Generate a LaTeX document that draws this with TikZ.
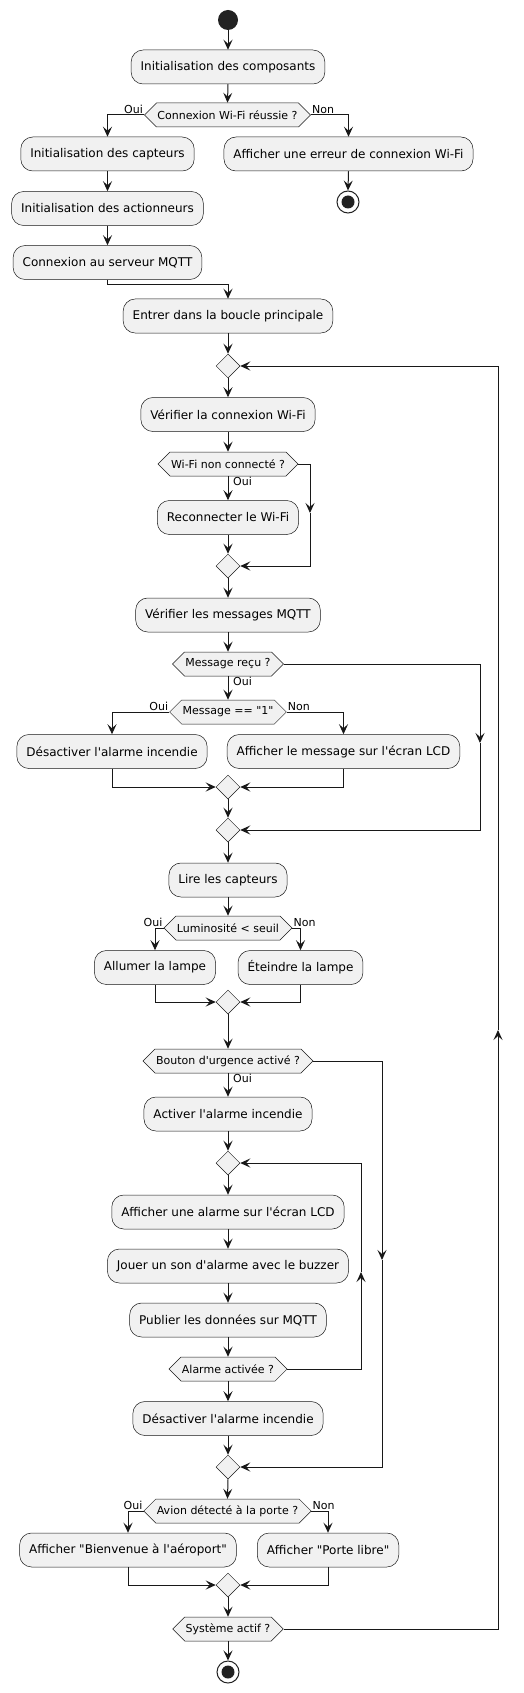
\documentclass[tikz,border=0pt]{standalone}
\usepackage{fontspec}
\setmainfont{DejaVu Sans}[Ligatures=TeXOff]
\usetikzlibrary{arrows.meta,shapes.geometric,shapes.symbols}
\definecolor{lc}{HTML}{181818}
\definecolor{ac}{HTML}{181818}
\definecolor{boxfill}{HTML}{F1F1F1}
\definecolor{startc}{HTML}{222222}
\tikzset{
 act/.style={draw=lc, line width=0.5pt, fill=boxfill, rounded corners=12pt, minimum height=34pt, inner xsep=9.5pt, inner ysep=0pt, font=\fontsize{12}{14}\selectfont},
 dec/.style={signal, signal to=west and east, signal pointer angle=90, draw=lc, line width=0.5pt, fill=boxfill, minimum height=24pt, inner xsep=1pt, inner ysep=0pt, font=\fontsize{11}{13}\selectfont},
 mrg/.style={diamond, draw=lc, line width=0.5pt, fill=boxfill, minimum width=24pt, minimum height=24pt, inner sep=0pt},
 arr/.style={draw=ac, line width=1pt, -{Stealth[length=10pt,width=9pt,inset=4pt]}},
 lbl/.style={font=\fontsize{11}{13}\selectfont, inner sep=1pt},
 startn/.style={circle, fill=startc, minimum size=20pt, inner sep=0pt},
 stopn/.style={circle, draw=startc, line width=1pt, fill=white, minimum size=22pt, inner sep=0pt},
}
\begin{document}
\begin{tikzpicture}[x=1pt,y=-1pt]
\useasboundingbox (0,0) rectangle (524,1693);
\fill[white] (0,0) rectangle (524,1693);

% nodes
\node[startn] (start) at (228,20) {};
\node[act] (a1) at (228,67) {Initialisation des composants};
\node[dec] (d1) at (227.5,115) {Connexion Wi-Fi réussie ?};
\node[act] (b1) at (107.5,154) {Initialisation des capteurs};
\node[act] (e1) at (348.5,154) {Afficher une erreur de connexion Wi-Fi};
\node[stopn] (stop1) at (348,202) {};
\fill[startc] (stop1.center) circle (6.5);
\node[act] (b2) at (107.5,208.5) {Initialisation des actionneurs};
\node[act] (b3) at (107.5,262.5) {Connexion au serveur MQTT};
\node[act] (a2) at (228,316) {Entrer dans la boucle principale};
\node[mrg] (m1) at (228,366) {};
\node[act] (a3) at (228,414.5) {Vérifier la connexion Wi-Fi};
\node[dec] (d2) at (228,464) {Wi-Fi non connecté ?};
\node[act] (a4) at (228,517.5) {Reconnecter le Wi-Fi};
\node[mrg] (m2) at (228,566) {};
\node[act] (a5) at (228,615) {Vérifier les messages MQTT};
\node[dec] (d3) at (228,664) {Message reçu ?};
\node[dec] (d4) at (228,712) {Message == "1"};
\node[act] (b4) at (112,751.5) {Désactiver l'alarme incendie};
\node[act] (c4) at (343.5,751.5) {Afficher le message sur l'écran LCD};
\node[mrg] (m3) at (228,787) {};
\node[mrg] (m4) at (228,830) {};
\node[act] (a6) at (228,880) {Lire les capteurs};
\node[dec] (d5) at (228,928) {Luminosité < seuil};
\node[act] (b5) at (155,967.5) {Allumer la lampe};
\node[act] (c5) at (300.5,967.5) {Éteindre la lampe};
\node[mrg] (m5) at (228,1002) {};
\node[dec] (d6) at (228,1061) {Bouton d'urgence activé ?};
\node[act] (a7) at (228,1114) {Activer l'alarme incendie};
\node[mrg] (m6) at (228,1163) {};
\node[act] (a8) at (228,1212) {Afficher une alarme sur l'écran LCD};
\node[act] (a9) at (228,1266) {Jouer un son d'alarme avec le buzzer};
\node[act] (a10) at (228,1320) {Publier les données sur MQTT};
\node[dec] (d7) at (228,1369) {Alarme activée ?};
\node[act] (a11) at (228,1418.5) {Désactiver l'alarme incendie};
\node[mrg] (m7) at (228,1467) {};
\node[dec] (d8) at (227.5,1511) {Avion détecté à la porte ?};
\node[act] (b8) at (128,1550) {Afficher "Bienvenue à l'aéroport"};
\node[act] (c8) at (328,1550) {Afficher "Porte libre"};
\node[mrg] (m8) at (228,1585) {};
\node[dec] (d9) at (228,1629) {Système actif ?};
\node[stopn] (stop2) at (228,1672) {};
\fill[startc] (stop2.center) circle (6.5);

% corner coordinates
\coordinate (k2) at (310,513);
\coordinate (k3) at (480,743);
\coordinate (k6) at (382,1260);
\coordinate (k7) at (361,1272);
\coordinate (k9) at (498,1030);

% labels
\node[lbl, anchor=south east] (l1) at (d1.west) {Oui};
\node[lbl, anchor=south west] (l2) at (d1.east) {Non};
\node[lbl, anchor=north west, xshift=4pt] (l3) at (d2.south) {Oui};
\node[lbl, anchor=north west, xshift=4pt] (l4) at (d3.south) {Oui};
\node[lbl, anchor=south east] (l5) at (d4.west) {Oui};
\node[lbl, anchor=south west] (l6) at (d4.east) {Non};
\node[lbl, anchor=south east] (l7) at (d5.west) {Oui};
\node[lbl, anchor=south west] (l8) at (d5.east) {Non};
\node[lbl, anchor=north west, xshift=4pt] (l9) at (d6.south) {Oui};
\node[lbl, anchor=south east] (l10) at (d8.west) {Oui};
\node[lbl, anchor=south west] (l11) at (d8.east) {Non};

% connectors
\draw[arr] (start.south) -- (a1.north);
\draw[arr] (a1.south) -- (d1.north);
\draw[arr] (d1.west) -| (b1.north);
\draw[arr] (d1.east) -| (e1.north);
\draw[arr] (e1.south) -- (stop1.north);
\draw[arr] (b1.south) -- (b2.north);
\draw[arr] (b2.south) -- (b3.north);
\draw[arr] (b3.south) -- ++(0,5) -| (a2.north);
\draw[arr] (a2.south) -- (m1.north);
\draw[arr] (m1.south) -- (a3.north);
\draw[arr] (a3.south) -- (d2.north);
\draw[arr] (d2.south) -- (a4.north);
\draw[arr] (d2.east) -| (k2);
\draw[arr] (k2) |- (m2.east);
\draw[arr] (a4.south) -- (m2.north);
\draw[arr] (m2.south) -- (a5.north);
\draw[arr] (a5.south) -- (d3.north);
\draw[arr] (d3.south) -- (d4.north);
\draw[arr] (d3.east) -| (k3);
\draw[arr] (k3) |- (m4.east);
\draw[arr] (d4.west) -| (b4.north);
\draw[arr] (d4.east) -| (c4.north);
\draw[arr] (b4.south) |- (m3.west);
\draw[arr] (c4.south) |- (m3.east);
\draw[arr] (m3.south) -- (m4.north);
\draw[arr] (m4.south) -- (a6.north);
\draw[arr] (a6.south) -- (d5.north);
\draw[arr] (d5.west) -| (b5.north);
\draw[arr] (d5.east) -| (c5.north);
\draw[arr] (b5.south) |- (m5.west);
\draw[arr] (c5.south) |- (m5.east);
\draw[arr] (m5.south) -- (d6.north);
\draw[arr] (d6.south) -- (a7.north);
\draw[arr] (d6.east) -| (k6);
\draw[arr] (k6) |- (m7.east);
\draw[arr] (a7.south) -- (m6.north);
\draw[arr] (m6.south) -- (a8.north);
\draw[arr] (a8.south) -- (a9.north);
\draw[arr] (a9.south) -- (a10.north);
\draw[arr] (a10.south) -- (d7.north);
\draw[arr] (d7.east) -| (k7);
\draw[arr] (k7) |- (m6.east);
\draw[arr] (d7.south) -- (a11.north);
\draw[arr] (a11.south) -- (m7.north);
\draw[arr] (m7.south) -- (d8.north);
\draw[arr] (d8.west) -| (b8.north);
\draw[arr] (d8.east) -| (c8.north);
\draw[arr] (b8.south) |- (m8.west);
\draw[arr] (c8.south) |- (m8.east);
\draw[arr] (m8.south) -- (d9.north);
\draw[arr] (d9.east) -| (k9);
\draw[arr] (k9) |- (m1.east);
\draw[arr] (d9.south) -- (stop2.north);
\end{tikzpicture}
\end{document}
